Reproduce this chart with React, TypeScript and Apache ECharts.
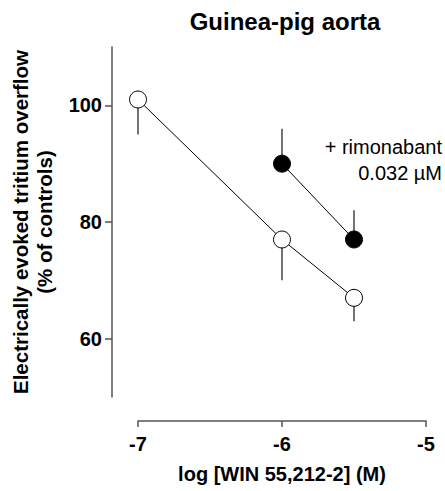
import React, { useEffect, useRef } from "react";
import * as echarts from "echarts";

const controlX = [-7, -6, -5.5];
const controlY = [101, 77, 67];
const controlErrEnd = [95, 70, 63];

const rimoX = [-6, -5.5];
const rimoY = [90, 77];
const rimoErrEnd = [96, 82];

const yTicks = [60, 80, 100];
const xTicks = [-7, -6, -5];

const FONT = "'Liberation Sans', Arial, Helvetica, sans-serif";

export default function App() {
  const ref = useRef<HTMLDivElement>(null);
  useEffect(() => {
    if (!ref.current) return;
    document.body.style.margin = "0";
    const chart = echarts.init(ref.current, null, { renderer: "svg" });
    const ctrl = controlX.map((x, i) => [x, controlY[i]]);
    const rimo = rimoX.map((x, i) => [x, rimoY[i]]);
    const errs = [
      ...controlX.map((x, i) => [x, controlY[i], controlErrEnd[i]]),
      ...rimoX.map((x, i) => [x, rimoY[i], rimoErrEnd[i]]),
    ];
    chart.setOption({
      animation: false,
      title: {
        text: "Guinea-pig aorta",
        left: 280,
        top: 4,
        textAlign: "center",
        textStyle: { fontFamily: FONT, fontSize: 24, fontWeight: "bold", color: "#000" },
      },
      graphic: [
        {
          type: "text",
          x: 442,
          y: 147,
          style: {
            text: "+ rimonabant",
            fontFamily: FONT,
            fontSize: 20,
            align: "right",
            verticalAlign: "middle",
            fill: "#000",
          },
        },
        {
          type: "text",
          x: 442,
          y: 173,
          style: {
            text: "0.032 µM",
            fontFamily: FONT,
            fontSize: 20,
            align: "right",
            verticalAlign: "middle",
            fill: "#000",
          },
        },
      ],
      grid: { left: 137, right: 19, top: 47, bottom: 94 },
      xAxis: {
        type: "value",
        min: -7,
        max: -5,
        interval: 1,
        offset: 24,
        splitLine: { show: false },
        axisLine: { show: true, lineStyle: { color: "#555", width: 1.5 } },
        axisTick: { show: true, length: 6, lineStyle: { color: "#555", width: 1.5 }, customValues: xTicks },
        axisLabel: {
          margin: 13,
          fontFamily: FONT,
          fontSize: 20,
          fontWeight: "bold",
          color: "#000",
          customValues: xTicks,
        },
        name: "log [WIN 55,212-2] (M)",
        nameLocation: "middle",
        nameGap: 43,
        nameTextStyle: { fontFamily: FONT, fontSize: 20, fontWeight: "bold", color: "#000" },
      },
      yAxis: {
        type: "value",
        min: 50,
        max: 110,
        interval: 10,
        offset: 26,
        splitLine: { show: false },
        axisLine: { show: true, lineStyle: { color: "#555", width: 1.5 } },
        axisTick: { show: true, length: 7, lineStyle: { color: "#555", width: 1.5 }, customValues: yTicks },
        axisLabel: {
          margin: 10,
          fontFamily: FONT,
          fontSize: 20,
          fontWeight: "bold",
          color: "#000",
          customValues: yTicks,
        },
        name: "Electrically evoked tritium overflow\n(% of controls)",
        nameLocation: "middle",
        nameGap: 56,
        nameTextStyle: { fontFamily: FONT, fontSize: 20.5, fontWeight: "bold", color: "#000", lineHeight: 24 },
      },
      series: [
        {
          type: "custom",
          data: errs,
          z: 1,
          renderItem: (params: any, api: any) => {
            const p1 = api.coord([api.value(0), api.value(1)]);
            const p2 = api.coord([api.value(0), api.value(2)]);
            return {
              type: "line",
              shape: { x1: p1[0], y1: p1[1], x2: p2[0], y2: p2[1] },
              style: { stroke: "#444", lineWidth: 1.5 },
            };
          },
        },
        {
          type: "line",
          data: ctrl,
          z: 2,
          symbol: "circle",
          symbolSize: 17,
          lineStyle: { color: "#000", width: 1 },
          itemStyle: { color: "#fff", borderColor: "#000", borderWidth: 1 },
        },
        {
          type: "line",
          data: rimo,
          z: 2,
          symbol: "circle",
          symbolSize: 17,
          lineStyle: { color: "#000", width: 1 },
          itemStyle: { color: "#000", borderColor: "#000", borderWidth: 1 },
        },
      ],
    });
    return () => chart.dispose();
  }, []);
  return <div ref={ref} style={{ width: 445, height: 491 }} />;
}
